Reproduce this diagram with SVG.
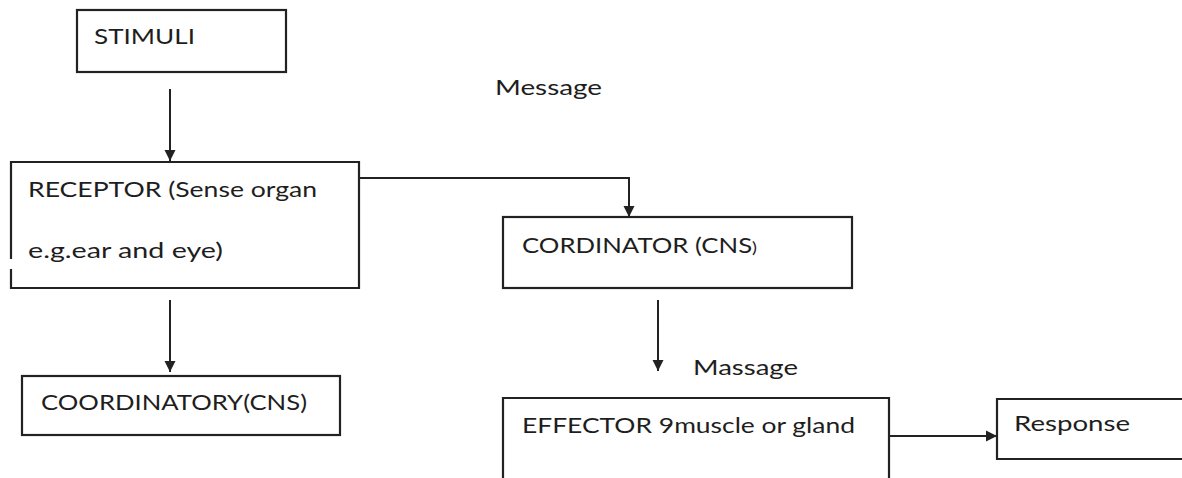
<svg xmlns="http://www.w3.org/2000/svg" width="1182" height="478" viewBox="0 0 1182 478">
<style>
.box{fill:#fff;stroke:#222;stroke-width:2.2}
.edge{fill:none;stroke:#222;stroke-width:2}
.t{font-family:Lato,"Liberation Sans",Arial,sans-serif;font-size:21px;fill:#1e1e1e}
</style>
<defs>
<marker id="ah" markerUnits="userSpaceOnUse" markerWidth="12" markerHeight="12" refX="11" refY="6" orient="auto">
<path d="M0,0.5 L11,6 L0,11.5 z" fill="#222"/>
</marker>
</defs>
<rect width="1182" height="478" fill="#fff"/>
<g id="stimuli">
<rect class="box" x="77" y="10" width="209" height="62"/>
<text class="t" x="94" y="44" textLength="101" lengthAdjust="spacingAndGlyphs">STIMULI</text>
</g>
<g id="receptor">
<path d="M11,259 L11,162 L359,162 L359,288 L11,288 L11,269" fill="#fff" stroke="#222" stroke-width="2.2"/>
<text class="t" x="28" y="197" textLength="289" lengthAdjust="spacingAndGlyphs">RECEPTOR (Sense organ</text>
<text class="t" x="28" y="258" textLength="195" lengthAdjust="spacingAndGlyphs">e.g.ear and eye)</text>
</g>
<g id="cordinator">
<rect class="box" x="503" y="217" width="349" height="71"/>
<text class="t" x="522" y="253" textLength="235" lengthAdjust="spacingAndGlyphs">CORDINATOR (CNS<tspan font-size="15">)</tspan></text>
</g>
<g id="coordinatory">
<rect class="box" x="22" y="376" width="318" height="59"/>
<text class="t" x="41" y="410" textLength="266" lengthAdjust="spacingAndGlyphs">COORDINATORY(CNS)</text>
</g>
<g id="effector">
<path d="M503,480 L503,398 L889,398 L889,480" fill="#fff" stroke="#222" stroke-width="2.2"/>
<text class="t" x="522" y="433" textLength="333" lengthAdjust="spacingAndGlyphs">EFFECTOR 9muscle or gland</text>
</g>
<g id="response">
<path d="M1190,399 L997,399 L997,459 L1190,459" fill="#fff" stroke="#222" stroke-width="2.2"/>
<text class="t" x="1014" y="431" textLength="116" lengthAdjust="spacingAndGlyphs">Response</text>
</g>
<g id="labels">
<text class="t" x="495" y="95" textLength="107" lengthAdjust="spacingAndGlyphs">Message</text>
<text class="t" x="693" y="375" textLength="105" lengthAdjust="spacingAndGlyphs">Massage</text>
</g>
<g id="connectors">
<path class="edge" d="M170,89 L170,161" marker-end="url(#ah)"/>
<path class="edge" d="M359,178 L629,178 L629,217" marker-end="url(#ah)"/>
<path class="edge" d="M170,300 L170,372" marker-end="url(#ah)"/>
<path class="edge" d="M658,300 L658,371" marker-end="url(#ah)"/>
<path class="edge" d="M889,436 L997,436" marker-end="url(#ah)"/>
</g>
</svg>
